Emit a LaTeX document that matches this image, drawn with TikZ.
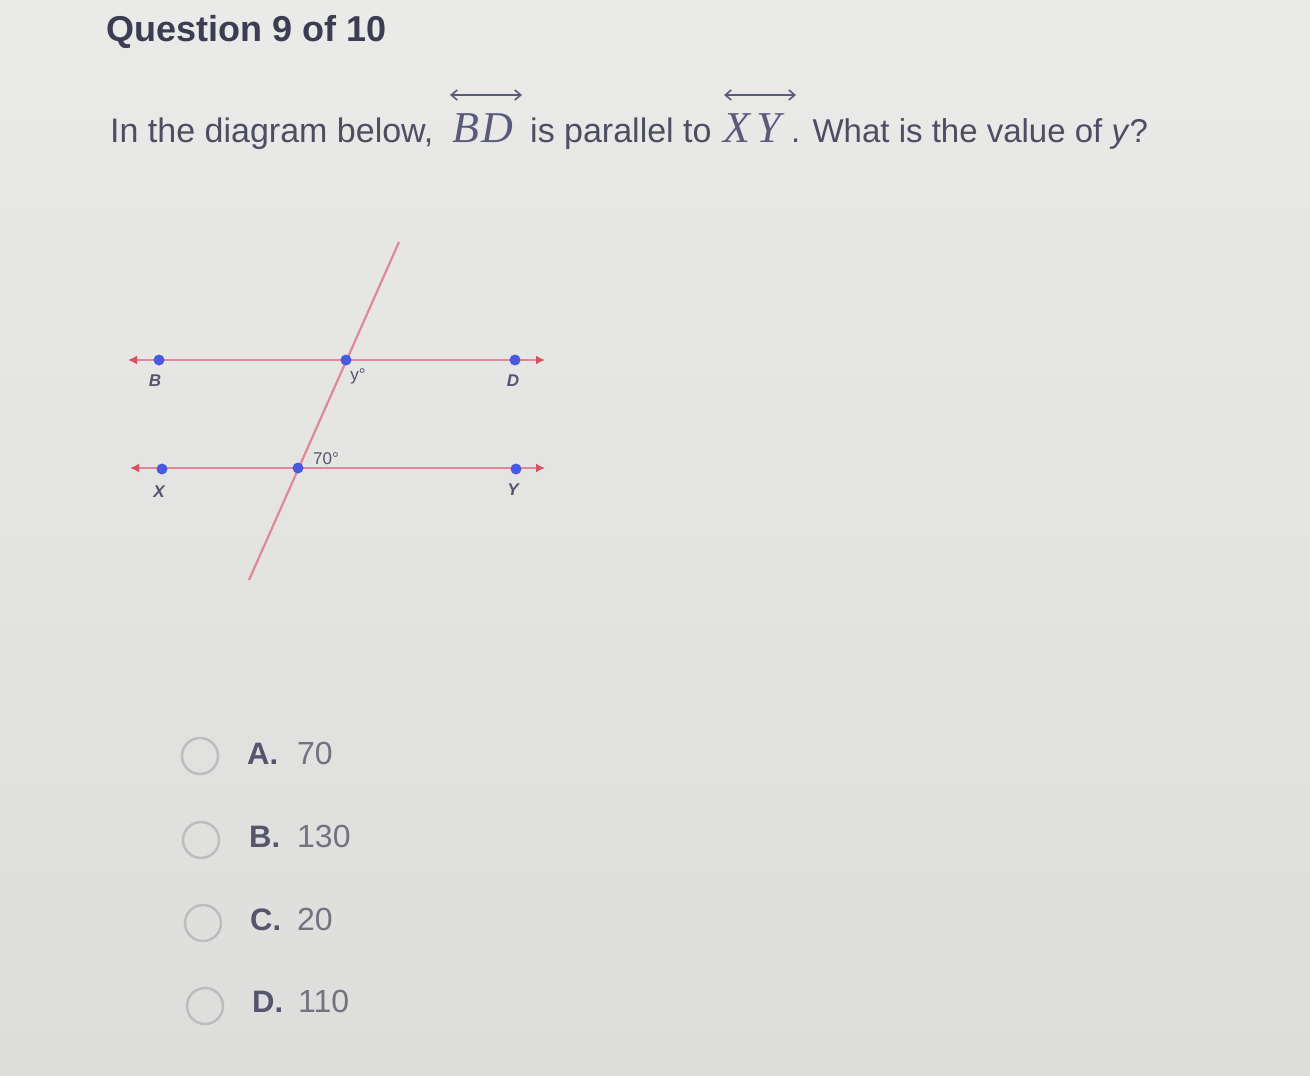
\documentclass[tikz,border=0pt]{standalone}
\usepackage{fontspec}
\setmainfont{Liberation Sans}
\newfontfamily\mathserif{Liberation Serif}
\usetikzlibrary{arrows.meta}
\definecolor{bgtop}{HTML}{EAEAE8}
\definecolor{bgbot}{HTML}{DDDDDB}
\definecolor{headc}{HTML}{3C3C52}
\definecolor{bodyc}{HTML}{4E4E62}
\definecolor{mathc}{HTML}{5A5A7C}
\definecolor{linec}{HTML}{E2879A}
\definecolor{tipc}{HTML}{D9505F}
\definecolor{ptc}{HTML}{4A5ADF}
\definecolor{lblc}{HTML}{55556E}
\definecolor{numc}{HTML}{737380}
\definecolor{circc}{HTML}{BDBDBD}
\tikzset{
  txt/.style={anchor=base west, inner sep=0pt, text=bodyc, font=\fontsize{34}{40}\selectfont},
  mth/.style={anchor=base west, inner sep=0pt, text=mathc, font=\mathserif\itshape\fontsize{44}{48}\selectfont},
  geoline/.style={draw=linec, line width=2.2pt, {Latex[length=9pt,width=9pt,color=tipc]}-{Latex[length=9pt,width=9pt,color=tipc]}},
  overarrow/.style={draw=mathc, line width=1.6pt, {Straight Barb[length=6pt,width=10pt]}-{Straight Barb[length=6pt,width=10pt]}},
  pt/.style={circle, fill=ptc, inner sep=0pt, minimum size=11pt},
  ptlbl/.style={inner sep=0pt, text=lblc, font=\bfseries\itshape\fontsize{17}{20}\selectfont},
  anglbl/.style={inner sep=0pt, text=lblc, font=\fontsize{17}{20}\selectfont},
  radio/.style={circle, draw=circc, line width=2.5pt, minimum size=36pt, inner sep=0pt},
  optletter/.style={anchor=base west, inner sep=0pt, text=lblc, font=\bfseries\fontsize{31}{36}\selectfont},
  optnum/.style={anchor=base west, inner sep=0pt, text=numc, font=\fontsize{32}{36}\selectfont}
}
\begin{document}
\begin{tikzpicture}[x=1pt,y=-1pt]
\shade[top color=bgtop, bottom color=bgbot] (0,0) rectangle (1310,1076);
\useasboundingbox (0,0) rectangle (1310,1076);

% heading
\node[anchor=base west, inner sep=0pt, text=headc, font=\bfseries\fontsize{36}{40}\selectfont] (head) at (106,41) {Question 9 of 10};

% question line
\node[txt] (q1) at (110,142) {In the diagram below,};
\node[mth] (bd) at (452,142) {B\kern2pt D};
\coordinate (bdl) at (450,95);
\coordinate (bdr) at (522,95);
\draw[overarrow] (bdl) -- (bdr);
\node[txt] (q2) at (530,142) {is parallel to};
\node[mth] (xy) at (723,142) {X\kern6pt Y};
\coordinate (xyl) at (724,95);
\coordinate (xyr) at (796,95);
\draw[overarrow] (xyl) -- (xyr);
\node[txt, font=\fontsize{33}{40}\selectfont] (q3) at (791,142) {. What is the value of \textit{y}?};

% diagram
\coordinate (bdL) at (128,360);
\coordinate (bdR) at (545,360);
\coordinate (xyL) at (130,468);
\coordinate (xyR) at (545,468);
\coordinate (tT) at (399,242);
\coordinate (tB) at (249,580);
\draw[geoline] (bdL) -- (bdR);
\draw[geoline] (xyL) -- (xyR);
\draw[draw=linec, line width=2.2pt] (tT) -- (tB);

\node[pt] (B) at (159,360) {};
\node[pt] (P1) at (346,360) {};
\node[pt] (D) at (515,360) {};
\node[pt] (X) at (162,469) {};
\node[pt] (P2) at (298,468) {};
\node[pt] (Y) at (516,469) {};

\node[ptlbl] (Bl) at (155,381) {B};
\node[ptlbl] (Dl) at (513,381) {D};
\node[ptlbl] (Xl) at (159,492) {X};
\node[ptlbl] (Yl) at (513,490) {Y};
\node[anglbl] (yl) at (358,376) {y°};
\node[anglbl] (al) at (326,459) {70°};

% options
\node[radio] (ra) at (200,756) {};
\node[radio] (rb) at (201,840) {};
\node[radio] (rc) at (203,923) {};
\node[radio] (rd) at (205,1006) {};
\node[optletter] (la) at (247,764) {A.};
\node[optnum] (na) at (297,764) {70};
\node[optletter] (lb) at (249,847) {B.};
\node[optnum] (nb) at (297,847) {130};
\node[optletter] (lc) at (250,930) {C.};
\node[optnum] (nc) at (297,930) {20};
\node[optletter] (ld) at (252,1012) {D.};
\node[optnum] (nd) at (298,1012) {110};
\end{tikzpicture}
\end{document}
